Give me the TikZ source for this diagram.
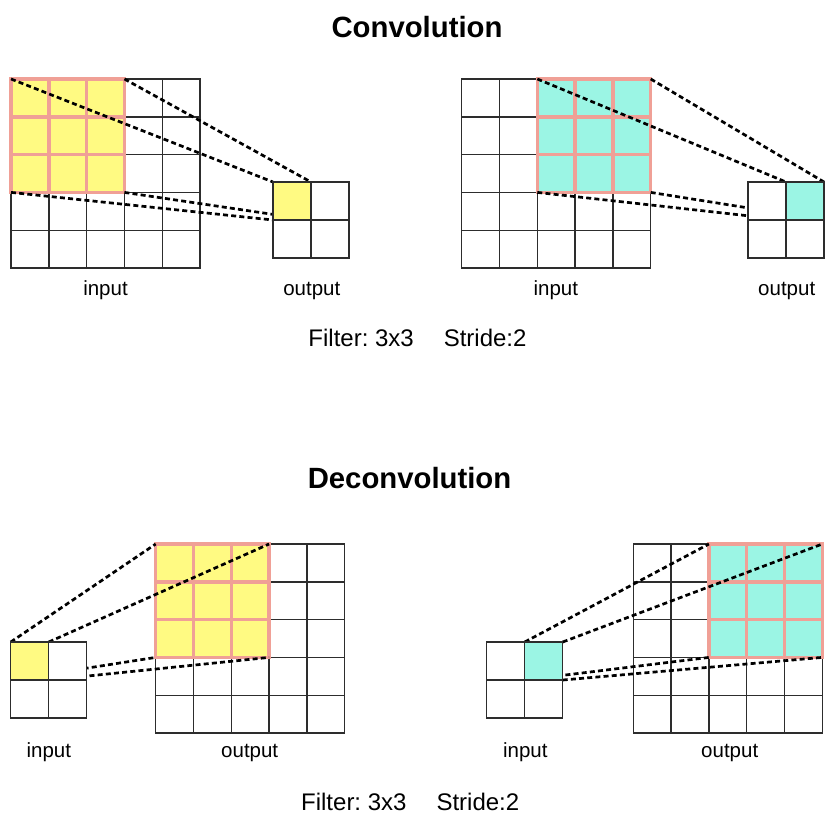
\documentclass[tikz,border=0pt]{standalone}
\usepackage{fontspec}
\setmainfont{Liberation Sans}
\definecolor{gridc}{RGB}{45,45,45}
\definecolor{pinkc}{RGB}{240,160,150}
\definecolor{yellowc}{RGB}{255,250,130}
\definecolor{cyanc}{RGB}{155,245,228}
\pgfdeclarelayer{canvas}
\pgfdeclarelayer{back}
\pgfdeclarelayer{mid}
\pgfsetlayers{canvas,back,mid,main}
\tikzset{
  gridline/.style={draw=gridc, line width=1.4pt, line cap=rect},
  pinkline/.style={draw=pinkc, line width=3.4pt},
  filterbox/.style={anchor=north west, minimum width=113.4pt, minimum height=113.4pt,
    inner sep=0pt, outer sep=0pt, draw=pinkc, line width=3.4pt},
  smallcell/.style={anchor=north west, minimum size=38pt, inner sep=0pt, outer sep=0pt,
    draw=gridc, line width=1.4pt, fill=white},
  conn/.style={draw=black, line width=2.7pt, dash pattern=on 5pt off 3.2pt},
  lab/.style={anchor=base, inner sep=0pt, font=\fontsize{20.5}{24}\selectfont},
  ttl/.style={anchor=base, inner sep=0pt, font=\fontsize{29.3}{34}\selectfont\bfseries},
  info/.style={anchor=base, inner sep=0pt, font=\fontsize{24}{28}\selectfont\frenchspacing},
}
\newcommand\BigGridAt[2]{%
  \fill[white] (#1,#2) rectangle ++(189,189);
  \foreach \k in {0,...,5}{%
    \draw[gridline] ({#1+\k*37.8},#2) -- ++(0,189);
    \draw[gridline] (#1,{#2+\k*37.8}) -- ++(189,0);}}
\newcommand\FilterAt[4]{%
  \node[filterbox, fill=#4] (#1) at (#2,#3) {};
  \draw[pinkline] ({#2+37.8},#3) -- ++(0,113.4) ({#2+75.6},#3) -- ++(0,113.4)
     (#2,{#3+37.8}) -- ++(113.4,0) (#2,{#3+75.6}) -- ++(113.4,0);}
\begin{document}
\begin{tikzpicture}[x=1pt,y=-1pt]
\begin{pgfonlayer}{canvas}
\fill[white] (0,0) rectangle (834,830);
\end{pgfonlayer}
\useasboundingbox (0,0) rectangle (834,830);

% titles and captions
\node[ttl] (t1) at (417,37) {Convolution};
\node[ttl] (t2) at (409.5,488.3) {Deconvolution};
\node[info] (f1) at (417.5,346.7) {Filter: 3x3\hspace{30pt}Stride:2};
\node[info] (f2) at (410.2,810) {Filter: 3x3\hspace{30pt}Stride:2};

% ---------- back layer: big grids and filter windows
\begin{pgfonlayer}{back}
  \BigGridAt{11}{79}
  \FilterAt{fA}{11}{79}{yellowc}
  \BigGridAt{461.7}{79}
  \FilterAt{fB}{537.3}{79}{cyanc}
  \BigGridAt{155.7}{544}
  \FilterAt{fC}{155.7}{544}{yellowc}
  \BigGridAt{633.3}{544}
  \FilterAt{fD}{708.9}{544}{cyanc}
\end{pgfonlayer}

% ---------- small grids
% top-left output
\node[smallcell, fill=yellowc] (a1) at (273,182) {};
\node[smallcell] (a2) at (311,182) {};
\node[smallcell] (a3) at (273,220) {};
\node[smallcell] (a4) at (311,220) {};
% top-right output
\node[smallcell] (b1) at (748,182) {};
\node[smallcell, fill=cyanc] (b2) at (786,182) {};
\node[smallcell] (b3) at (748,220) {};
\node[smallcell] (b4) at (786,220) {};
% bottom-left input
\node[smallcell, fill=yellowc] (c1) at (10.7,642) {};
\node[smallcell] (c2) at (48.7,642) {};
\node[smallcell] (c3) at (10.7,680) {};
\node[smallcell] (c4) at (48.7,680) {};
% bottom-right input
\node[smallcell] (d1) at (486.7,642) {};
\node[smallcell, fill=cyanc] (d2) at (524.7,642) {};
\node[smallcell] (d3) at (486.7,680) {};
\node[smallcell] (d4) at (524.7,680) {};

% ---------- dashed connectors
\begin{pgfonlayer}{mid}
  \draw[conn] (fA.north west) -- (a1.north west);
  \draw[conn] (fA.north east) -- (a1.north east);
  \draw[conn] (fA.south west) -- (a1.south west);
  \draw[conn] (fA.south east) -- (a1.south east);
  \draw[conn] (fB.north west) -- (b2.north west);
  \draw[conn] (fB.north east) -- (b2.north east);
  \draw[conn] (fB.south west) -- (b2.south west);
  \draw[conn] (fB.south east) -- (b2.south east);
  \draw[conn] (c1.north west) -- (fC.north west);
  \draw[conn] (c1.north east) -- (fC.north east);
  \draw[conn] (c1.south west) -- (fC.south west);
  \draw[conn] (c1.south east) -- (fC.south east);
  \draw[conn] (d2.north west) -- (fD.north west);
  \draw[conn] (d2.north east) -- (fD.north east);
  \draw[conn] (d2.south west) -- (fD.south west);
  \draw[conn] (d2.south east) -- (fD.south east);
\end{pgfonlayer}

% ---------- labels
\node[lab] (l1) at (105.5,295.5) {input};
\node[lab] (l2) at (311.8,295.5) {output};
\node[lab] (l3) at (555.8,295.5) {input};
\node[lab] (l4) at (786.7,295.5) {output};
\node[lab] (l5) at (48.8,757.3) {input};
\node[lab] (l6) at (249.7,757.3) {output};
\node[lab] (l7) at (525.3,757.3) {input};
\node[lab] (l8) at (729.7,757.3) {output};
\end{tikzpicture}
\end{document}
